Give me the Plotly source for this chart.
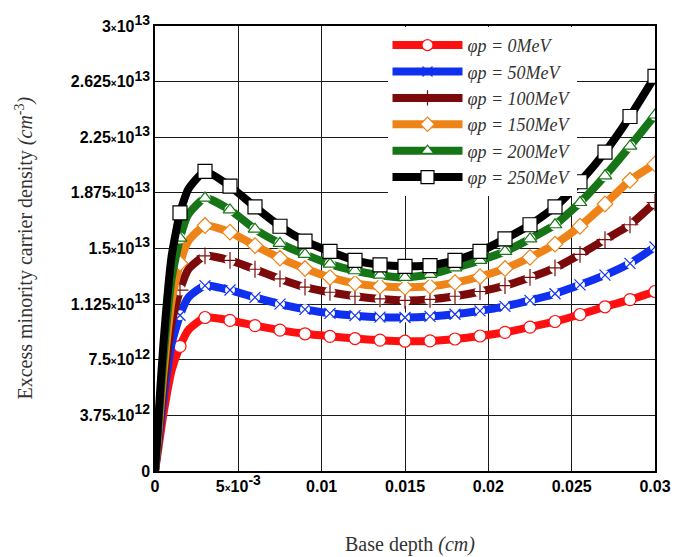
import plotly.graph_objects as go

# Base depth (cm)
depth = [0, 0.0002, 0.0005, 0.001, 0.0015, 0.002, 0.003, 0.0045, 0.006, 0.0075, 0.009,
         0.0105, 0.012, 0.0135, 0.015, 0.0165, 0.018, 0.0195, 0.021, 0.0225, 0.024,
         0.0255, 0.027, 0.0285, 0.03]

# Excess minority carrier density, in units of 1e13 cm^-3
dens_0 = [0, 0.15, 0.38, 0.68, 0.84, 0.95, 1.035, 1.015, 0.98, 0.95, 0.925,
          0.908, 0.893, 0.882, 0.875, 0.877, 0.89, 0.91, 0.935, 0.97, 1.008,
          1.055, 1.107, 1.155, 1.21]
dens_50 = [0, 0.19, 0.48, 0.86, 1.05, 1.17, 1.25, 1.22, 1.17, 1.125, 1.09,
           1.063, 1.047, 1.037, 1.035, 1.042, 1.057, 1.08, 1.11, 1.15, 1.195,
           1.255, 1.32, 1.40, 1.51]
dens_100 = [0, 0.22, 0.56, 1.0, 1.22, 1.36, 1.45, 1.42, 1.36, 1.295, 1.24,
            1.205, 1.178, 1.16, 1.15, 1.157, 1.178, 1.21, 1.25, 1.305, 1.37,
            1.46, 1.56, 1.66, 1.81]
dens_150 = [0, 0.26, 0.65, 1.15, 1.40, 1.55, 1.655, 1.61, 1.52, 1.435, 1.365,
            1.305, 1.265, 1.245, 1.238, 1.245, 1.27, 1.31, 1.365, 1.44, 1.53,
            1.65, 1.80, 1.96, 2.07]
dens_200 = [0, 0.30, 0.75, 1.30, 1.57, 1.73, 1.84, 1.76, 1.63, 1.535, 1.46,
            1.395, 1.35, 1.32, 1.305, 1.325, 1.37, 1.42, 1.48, 1.565, 1.66,
            1.81, 1.99, 2.19, 2.40]
dens_250 = [0, 0.35, 0.85, 1.45, 1.74, 1.90, 2.02, 1.92, 1.78, 1.65, 1.55,
            1.48, 1.42, 1.39, 1.38, 1.385, 1.42, 1.48, 1.565, 1.66, 1.78,
            1.95, 2.15, 2.39, 2.66]

series_names = ["φp = 0MeV", "φp = 50MeV", "φp = 100MeV",
                "φp = 150MeV", "φp = 200MeV", "φp = 250MeV"]
series_vals = [dens_0, dens_50, dens_100, dens_150, dens_200, dens_250]
colors = ["#ff1010", "#1030f0", "#7d0a0a", "#ee8418", "#167516", "#000000"]
symbols = ["circle", "x-thin", "cross-thin", "diamond", "triangle-up", "square"]
filled_symbol = [True, False, False, True, True, True]
msizes = [12, 11, 12, 12, 12, 14]

y_ticks = [0, 0.375, 0.75, 1.125, 1.5, 1.875, 2.25, 2.625, 3.0]
y_ticktext = ["0", "3.75", "7.5", "1.125", "1.5", "1.875", "2.25", "2.625", "3"]
y_exp = ["", "12", "12", "13", "13", "13", "13", "13", "13"]
x_ticks = [0, 0.005, 0.01, 0.015, 0.02, 0.025, 0.03]
x_ticktext = ["0", "5<span style='font-size:10px'>×</span>10<sup><span style='font-size:14px'>-3</span></sup>",
              "0.01", "0.015", "0.02", "0.025", "0.03"]

marker_idx = [i for i, x in enumerate(depth) if x >= 0.0015 and x != 0.002]

fig = go.Figure()
for name, vals, col, sym, filled, ms in zip(series_names, series_vals, colors,
                                           symbols, filled_symbol, msizes):
    fig.add_trace(go.Scatter(
        x=depth, y=vals, mode="lines", line=dict(color=col, width=8, shape="spline", smoothing=0.5),
        showlegend=False, hoverinfo="skip"))
    mx = [depth[i] for i in marker_idx]
    my = [vals[i] for i in marker_idx]
    # white gaps under the open markers
    fig.add_trace(go.Scatter(
        x=mx, y=my, mode="markers",
        marker=dict(symbol="circle", size=ms - 1, color="white", line=dict(width=0)),
        showlegend=False, hoverinfo="skip"))
    fig.add_trace(go.Scatter(
        x=mx, y=my, mode="markers",
        marker=dict(symbol=sym, size=ms, color="white" if filled else col,
                    line=dict(color=col, width=1.2)),
        showlegend=False))
    # legend entry
    fig.add_trace(go.Scatter(
        x=[None], y=[None], mode="lines+markers", name="<i>" + name + "</i>",
        line=dict(color=col, width=8),
        marker=dict(symbol=sym, size=ms - 1, color="white" if filled else col,
                    line=dict(color=col, width=1.2))))

tick_labels_y = []
for t, e in zip(y_ticktext, y_exp):
    if e:
        tick_labels_y.append(t + "<span style='font-size:10px'>×</span>10<sup><span style='font-size:14px'>"
                             + e + "</span></sup>")
    else:
        tick_labels_y.append(t)

axis_common = dict(showline=True, mirror=True, linecolor="black", linewidth=1.5,
                   showgrid=True, gridcolor="#1a1a1a", gridwidth=1.2, zeroline=False,
                   ticks="",
                   tickfont=dict(family="Liberation Sans, Arial", size=16, color="black",
                                 weight="bold"))

fig.update_layout(
    width=683, height=557,
    margin=dict(l=155, r=24, t=25, b=86),
    paper_bgcolor="white", plot_bgcolor="white",
    xaxis=dict(range=[0, 0.03], tickvals=x_ticks, ticktext=x_ticktext, **axis_common),
    yaxis=dict(range=[0, 3.0], tickvals=y_ticks, ticktext=tick_labels_y, **axis_common),
    legend=dict(x=0.465, y=0.998, xanchor="left", yanchor="top", bgcolor="white",
                borderwidth=0, tracegroupgap=0, itemwidth=70,
                font=dict(family="Liberation Serif, Times New Roman", size=18, color="#333")),
    annotations=[
        dict(text="Excess minority carrier density <i>(cm</i><sup>-3</sup><i>)</i>",
             xref="paper", yref="paper", x=-0.262, y=0.5, textangle=-90,
             xanchor="center", yanchor="middle", showarrow=False,
             font=dict(family="Liberation Serif, Times New Roman", size=20, color="#333")),
        dict(text="Base depth <i>(cm)</i>",
             xref="paper", yref="paper", x=0.51, y=-0.166,
             xanchor="center", yanchor="middle", showarrow=False,
             font=dict(family="Liberation Serif, Times New Roman", size=20, color="#333")),
    ],
)

fig.write_html("out.html")
